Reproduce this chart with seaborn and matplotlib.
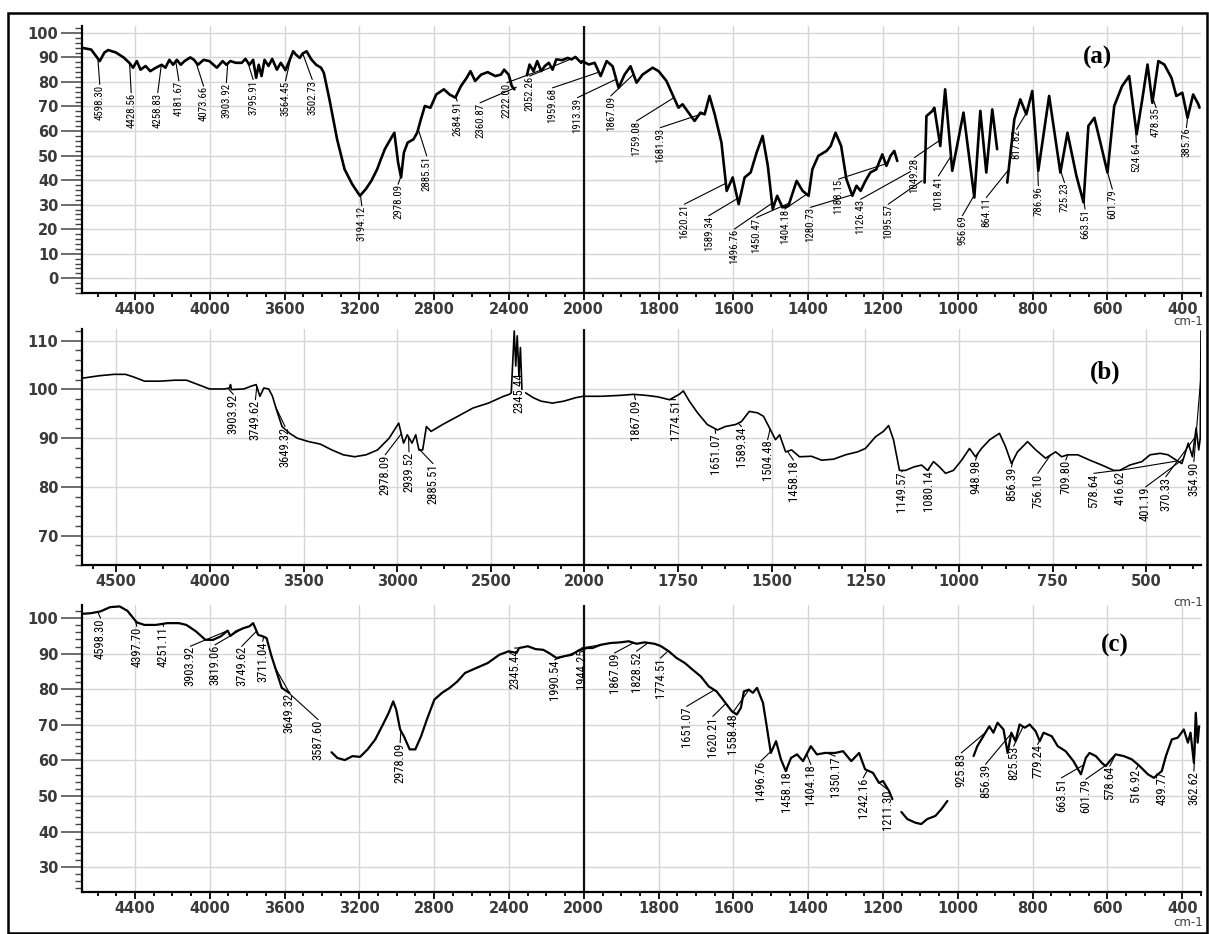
import numpy as np
import pandas as pd
import matplotlib
matplotlib.use("Agg")
import matplotlib.pyplot as plt
import seaborn as sns
from matplotlib import font_manager
from matplotlib.patches import Rectangle

GAP = None

# ---------------- panel (a) spectrum: (wavenumber cm-1, %T) ----------------
a_points = [
    (4683, 93.9), (4634, 93.2), (4588, 88.5), (4563, 92), (4543, 93), (4502, 92), (4461, 90),
    (4430, 87.8), (4410, 85.8), (4390, 88.5), (4370, 85), (4343, 86.5), (4318, 84.4), (4288, 85.8),
    (4257, 87), (4237, 85.8), (4216, 89), (4196, 87), (4176, 89), (4155, 87), (4135, 88.5),
    (4104, 90), (4084, 89), (4063, 87), (4033, 89), (4002, 88.5), (3962, 85.8), (3931, 88.5),
    (3911, 87), (3890, 88.5), (3860, 87.8), (3829, 87.8), (3809, 89.4), (3788, 87), (3768, 89),
    (3752, 81.7), (3738, 87), (3723, 82.4), (3707, 89), (3686, 86.5), (3666, 89.4), (3641, 85),
    (3620, 87.8), (3595, 84.8), (3575, 88.5), (3554, 92.5), (3540, 91.2), (3519, 89.8), (3503, 91.6),
    (3482, 92.5), (3457, 89.2), (3431, 87), (3405, 85.8), (3390, 83.7), (3360, 72.9), (3319, 56.6),
    (3279, 44.4), (3238, 38.3), (3197, 33.6), (3166, 36.3), (3136, 39.7), (3105, 44.4), (3085, 48.5),
    (3064, 52.6), (3044, 55.3), (3013, 59.3), (2993, 47.2), (2977, 41.1), (2962, 51.2), (2942, 55.3),
    (2911, 56.6), (2891, 59.3), (2871, 64.8), (2850, 70.2), (2820, 69.5), (2789, 74.9), (2748, 77),
    (2718, 74.9), (2687, 73.6), (2657, 78.3), (2626, 81.7), (2606, 84.4), (2581, 80.4), (2549, 83),
    (2514, 84), (2473, 82.4), (2443, 83), (2426, 85), (2402, 83), (2385, 78.3), (2371, 77),
    GAP,
    (2304, 82.7), (2290, 87.1), (2269, 84.4), (2249, 88.5), (2228, 84.4), (2208, 86.5), (2187, 87.8),
    (2167, 85), (2147, 89.2), (2116, 88.9), (2086, 89.8), (2065, 89.2), (2045, 90.2), (2014, 87.8),
    (2008, 88.5), (1987, 87.1), (1971, 87.8), (1955, 82.4), (1939, 88.5), (1923, 86.4), (1907, 77.6),
    (1891, 83), (1875, 86.4), (1859, 79.7), (1843, 83), (1816, 85.8), (1800, 84.4), (1779, 80.4),
    (1757, 72.9), (1747, 69.5), (1736, 70.9), (1720, 67.5), (1704, 64.1), (1688, 67.5), (1677, 66.8),
    (1664, 74.3), (1650, 66.8), (1632, 55.3), (1618, 35.6), (1602, 41.1), (1586, 30.2), (1570, 41.1),
    (1554, 43.1), (1538, 51.2), (1522, 58), (1508, 45.8), (1495, 28.2), (1483, 33.6), (1469, 28.9),
    (1453, 29.5), (1431, 39.7), (1415, 35.6), (1399, 33.6), (1389, 44.4), (1373, 49.9), (1351, 51.9),
    (1340, 53.9), (1327, 59.3), (1312, 53.9), (1298, 40.4), (1282, 33.6), (1271, 37.7), (1260, 35.6),
    (1247, 39.7), (1234, 43.1), (1218, 44.4), (1202, 50.5), (1191, 45.8), (1180, 49.9), (1170, 51.9),
    (1162, 47.8),
    GAP,
    (1089, 39), (1084, 66.1), (1068, 68.2), (1063, 69.5), (1047, 53.9), (1034, 77), (1015, 43.8),
    (985, 67.5), (956, 32.9), (940, 68.2), (924, 43.1), (908, 68.8), (895, 52.6),
    GAP,
    (868, 39), (849, 64.8), (833, 72.9), (817, 66.8), (801, 76.3), (785, 43.8), (756, 74.3),
    (726, 43.1), (707, 59.3), (683, 41.7), (664, 30.9), (651, 62.1), (635, 65.4), (619, 55.3),
    (600, 43.1), (582, 70.2), (561, 78.3), (542, 82.4), (522, 58.7), (507, 72.9), (493, 87.1),
    (480, 71.5), (464, 88.5), (448, 87.1), (429, 81.7), (416, 74.3), (400, 75.6), (386, 65.4),
    (371, 74.9), (357, 70.9), (354, 69.5),
]

# ---------------- panel (b) spectrum ----------------
b_points = [
    (4687, 102.3), (4665, 102.4), (4594, 102.8), (4512, 103.1), (4451, 103.1), (4410, 102.6),
    (4349, 101.7), (4267, 101.7), (4186, 101.9), (4125, 101.9), (4063, 101), (4002, 100.1),
    (3921, 100.1), (3895, 100.3), (3890, 101), (3885, 100), (3876, 100), (3819, 100.1), (3778, 100.7),
    (3753, 101), (3733, 98.6), (3712, 100.3), (3686, 100.1), (3666, 98.6), (3645, 95.9), (3615, 92.4),
    (3574, 91), (3533, 90), (3472, 89.3), (3411, 88.8), (3349, 87.6), (3288, 86.6), (3227, 86.2),
    (3166, 86.6), (3105, 87.6), (3043, 90), (2992, 93.1), (2966, 89), (2946, 90.7), (2921, 89),
    (2901, 90.7), (2884, 87.6), (2864, 87.6), (2844, 92.4), (2819, 91.4), (2758, 92.8), (2676, 94.5),
    (2595, 96.2), (2513, 97.2), (2432, 98.6), (2401, 99), (2391, 99.3), (2375, 112), (2367, 104.8),
    (2359, 111), (2350, 102.8), (2342, 108.6), (2334, 100),
    GAP,
    (2314, 99.3), (2273, 98.3), (2232, 97.6), (2171, 97.2), (2110, 97.6), (2048, 98.3), (2007, 98.6),
    (1955, 98.6), (1902, 98.8), (1869, 99), (1837, 98.8), (1805, 98.5), (1773, 97.9), (1747, 99),
    (1736, 99.7), (1720, 97.6), (1698, 95.2), (1672, 92.8), (1645, 91.7), (1624, 92.4), (1597, 92.8),
    (1581, 93.4), (1560, 95.5), (1538, 95.2), (1522, 94.5), (1506, 92.1), (1490, 89.7), (1479, 90.7),
    (1463, 87.2), (1447, 87.6), (1426, 86.2), (1394, 86.3), (1367, 85.5), (1335, 85.7), (1303, 86.6),
    (1271, 87.2), (1250, 87.9), (1223, 90.3), (1202, 91.4), (1188, 92.6), (1175, 89.7), (1159, 83.4),
    (1143, 83.4), (1121, 84.1), (1100, 84.5), (1084, 83.4), (1068, 85.2), (1052, 84.1), (1036, 82.8),
    (1015, 83.4), (993, 85.5), (972, 87.9), (956, 86.2), (940, 87.9), (918, 89.7), (892, 91),
    (876, 88.3), (860, 84.8), (844, 87.2), (817, 89.3), (795, 87.6), (769, 85.9), (742, 87.2),
    (726, 86.2), (710, 86.6), (683, 86.6), (651, 85.5), (619, 84.5), (587, 83.4), (571, 83.4),
    (544, 84.5), (512, 85.2), (490, 86.6), (463, 86.9), (442, 86.6), (420, 85.5), (405, 84.8),
    (388, 89), (377, 86.2), (367, 92.1), (360, 87.6), (356, 90), (354, 112),
]

# ---------------- panel (c) spectrum ----------------
c_points = [
    (4686, 101.2), (4635, 101.4), (4584, 101.9), (4533, 103.1), (4482, 103.3), (4441, 102.1),
    (4390, 98.8), (4349, 98.1), (4288, 98.1), (4227, 98.6), (4165, 98.6), (4125, 98.1), (4074, 96.3),
    (4023, 93.9), (3982, 93.9), (3941, 94.9), (3904, 96.5), (3890, 95), (3859, 96.3), (3819, 97.2),
    (3788, 97.7), (3768, 98.6), (3741, 95.3), (3717, 94.9), (3696, 94.4), (3672, 89.7), (3655, 86.9),
    (3615, 80.4), (3574, 79),
    GAP,
    (3349, 62.3), (3318, 60.7), (3278, 60.1), (3237, 61.2), (3196, 61), (3156, 63.1), (3115, 65.9),
    (3074, 70.1), (3043, 73.4), (3019, 76.6), (3003, 74.3), (2982, 68.7), (2962, 66.8), (2931, 63.1),
    (2901, 63.1), (2870, 66.8), (2839, 71.5), (2799, 77.1), (2758, 79), (2717, 80.4), (2676, 82.2),
    (2635, 84.6), (2574, 86), (2513, 87.4), (2452, 89.7), (2401, 90.7), (2360, 90.2), (2346, 91.6),
    (2299, 92.1), (2258, 91.3), (2217, 91.1), (2186, 90.2), (2146, 88.8), (2105, 89.3), (2064, 89.7),
    (2023, 91.1), (1993, 91.6), (1977, 91.6), (1955, 92.5), (1929, 93), (1902, 93.2), (1880, 93.5),
    (1859, 92.8), (1838, 93.2), (1811, 92.8), (1795, 92.2), (1773, 90.7), (1752, 88.8), (1730, 87.4),
    (1709, 85.5), (1687, 83.6), (1666, 80.8), (1645, 79.4), (1628, 77.1), (1618, 75.7), (1604, 73.8),
    (1591, 72.9), (1580, 74.8), (1572, 79.4), (1559, 79.9), (1548, 79), (1537, 80.4), (1521, 76.2),
    (1511, 69.6), (1500, 62.1), (1486, 65.4), (1473, 60.3), (1460, 57), (1446, 60.7), (1430, 61.7),
    (1414, 59.8), (1393, 64), (1377, 61.7), (1355, 62.1), (1328, 62.1), (1307, 62.6), (1285, 59.8),
    (1264, 62.1), (1248, 57.5), (1227, 56.5), (1211, 53.7), (1200, 54.2), (1184, 51.4), (1175, 49.1),
    GAP,
    (1151, 45.5), (1135, 43.5), (1114, 42.5), (1098, 42.1), (1082, 43.5), (1060, 44.4), (1044, 46.3),
    (1028, 48.6),
    GAP,
    (958, 61.2), (948, 64), (932, 66.8), (916, 69.6), (905, 67.8), (894, 70.6), (878, 68.7),
    (867, 62.1), (857, 67.8), (846, 65.4), (835, 70.1), (821, 69.2), (808, 70.1), (792, 68.2),
    (781, 65.4), (771, 67.8), (749, 66.8), (733, 64), (712, 62.6), (691, 59.8), (671, 56.1),
    (658, 60.7), (648, 62.1), (631, 61.2), (615, 59.3), (605, 58.4), (594, 59.8), (578, 61.7),
    (556, 61.2), (535, 60.3), (514, 58.4), (492, 56.1), (476, 55.1), (455, 57), (444, 61.2),
    (428, 65.9), (412, 66.4), (396, 68.7), (385, 65), (378, 67.8), (369, 59.3), (364, 73.4),
    (359, 65), (355, 69.6),
]

# ---------------- peak labels ----------------
a_labels = ["4598.30", "4428.56", "4258.83", "4181.67", "4073.66", "3903.92", "3795.91", "3564.45",
            "3502.73", "3194.12", "2978.09", "2885.51", "2684.91", "2360.87", "2222.00", "2052.26",
            "1959.68", "1913.39", "1867.09", "1759.08", "1681.93", "1620.21", "1589.34", "1496.76",
            "1450.47", "1404.18", "1280.73", "1188.15", "1126.43", "1095.57", "1049.28", "1018.41",
            "956.69", "864.11", "817.82", "786.96", "725.23", "663.51", "601.79", "524.64", "478.35",
            "385.76"]
b_labels = ["3903.92", "3749.62", "3649.32", "2978.09", "2939.52", "2885.51", "2345.44", "1867.09",
            "1774.51", "1651.07", "1589.34", "1504.48", "1458.18", "1149.57", "1080.14", "948.98",
            "856.39", "756.10", "709.80", "578.64", "416.62", "401.19", "370.33", "354.90"]
c_labels = ["4598.30", "4397.70", "4251.11", "3903.92", "3819.06", "3749.62", "3711.04", "3649.32",
            "3587.60", "2978.09", "2345.44", "1990.54", "1944.25", "1867.09", "1828.52", "1774.51",
            "1651.07", "1620.21", "1558.48", "1496.76", "1458.18", "1404.18", "1350.17", "1242.16",
            "1211.30", "925.83", "856.39", "825.53", "779.24", "663.51", "601.79", "578.64", "516.92",
            "439.77", "362.62"]

# label placement (layout): (x of the text, y of the text top)
a_label_pos = [(4588, 79), (4420, 75.6), (4278, 75.6), (4165, 80.4), (4033, 78.3), (3911, 79.7),
               (3768, 81), (3595, 80.4), (3452, 81), (3187, 29.5), (2993, 38.3), (2840, 49.9),
               (2677, 72.2), (2555, 71.5), (2411, 79.7), (2290, 82.4), (2167, 77.6), (2034, 73.6),
               (1928, 74.3), (1859, 64.1), (1795, 61.4), (1731, 30.2), (1666, 25.5), (1597, 20.1),
               (1538, 24.8), (1463, 28.2), (1394, 28.9), (1319, 40.4), (1260, 32.2), (1186, 30.2),
               (1116, 49.2), (1052, 41.7), (988, 25.5), (924, 32.9), (843, 60.7), (785, 37.7),
               (715, 39), (660, 28.2), (587, 36.3), (523, 55.3), (470, 69.5), (389, 61.4)]
b_label_pos = [(3875, 99), (3757, 97.9), (3599, 92.4), (3064, 86.6), (2937, 87.2), (2809, 84.8),
               (2350, 103.4), (1864, 97.9), (1757, 97.9), (1650, 91), (1581, 92.4), (1511, 89.7),
               (1442, 85.5), (1153, 83.1), (1081, 83.4), (956, 85.5), (860, 84.1), (790, 82.8),
               (715, 85.5), (640, 82.8), (571, 83.4), (502, 80), (448, 82.1), (373, 85.2)]
c_label_pos = [(4584, 100), (4390, 97.7), (4247, 97.7), (4104, 92.1), (3972, 92.5), (3829, 92.1),
               (3717, 93.5), (3574, 79), (3421, 71.5), (2982, 65), (2370, 91.6), (2156, 88.3),
               (2013, 91.6), (1918, 90.2), (1859, 90.7), (1795, 88.8), (1725, 75.2), (1655, 72.4),
               (1602, 73.4), (1527, 59.8), (1457, 57), (1393, 58.9), (1328, 61.2), (1253, 55.1),
               (1189, 51.9), (991, 62.1), (926, 58.9), (851, 64), (787, 64.5), (723, 55.1),
               (658, 54.7), (594, 58.4), (524, 57.5), (454, 57), (369, 57)]

# axis ticks
ac_xticks = [4400, 4000, 3600, 3200, 2800, 2400, 2000, 1800, 1600, 1400, 1200, 1000, 800, 600, 400]
b_xticks = [4500, 4000, 3500, 3000, 2500, 2000, 1750, 1500, 1250, 1000, 750, 500]
a_yticks = [0, 10, 20, 30, 40, 50, 60, 70, 80, 90, 100]
b_yticks = [70, 80, 90, 100, 110]
c_yticks = [30, 40, 50, 60, 70, 80, 90, 100]

# ------------------------------------------------------------------
sns.set_theme(style="white")
plt.rcParams["font.family"] = ["DejaVu Sans"]

names = {f.name for f in font_manager.fontManager.ttflist}
NARROW = next((n for n in ["Liberation Sans Narrow", "Roboto Condensed", "Open Sans Condensed"]
               if n in names), None)
NARROW_SCALE = 1.0 if NARROW else 0.72
if NARROW is None:
    NARROW = "DejaVu Sans"
SERIF = "Liberation Serif" if "Liberation Serif" in names else "DejaVu Serif"


def fwd(x):
    x = np.asarray(x, float)
    return np.where(x <= 2000, x - 2000, (x - 2000) / 2.0)


def inv(t):
    t = np.asarray(t, float)
    return np.where(t <= 0, t + 2000, 2.0 * t + 2000)


def to_df(points):
    rows, seg = [], 0
    for p in points:
        if p is None:
            seg += 1
            continue
        rows.append((p[0], p[1], seg))
    return pd.DataFrame(rows, columns=["wn", "T", "seg"])


W, H = 1209, 934
fig = plt.figure(figsize=(W / 100, H / 100), dpi=100)


def make_axes(top, bottom, left=82, right=1201):
    return fig.add_axes([left / W, 1 - bottom / H, (right - left) / W, (bottom - top) / H])


TICKCOL = "#3a3a3a"


def draw_panel(ax, points, ylim, yticks, xticks, xminor, labels, label_pos, lw, fs):
    df = to_df(points)
    sns.lineplot(data=df, x="wn", y="T", units="seg", estimator=None, sort=False,
                 color="black", lw=lw, ax=ax, legend=False, zorder=3)
    ax.set_xscale("function", functions=(fwd, inv))
    ax.set_xlim(4683, 354)
    ax.set_ylim(*ylim)
    ax.set_xlabel("")
    ax.set_ylabel("")
    ax.set_xticks(xticks, labels=[str(t) for t in xticks])
    ax.set_xticks(xminor, minor=True)
    ax.set_yticks(yticks, labels=[str(t) for t in yticks])
    ax.set_yticks(np.arange(yticks[0] - 6, ylim[1], 2), minor=True)
    ax.grid(True, which="major", color="#d6d6d6", lw=1.0, zorder=0)
    ax.axvline(2000, color="#111111", lw=1.6, zorder=2)
    for s in ["top", "right"]:
        ax.spines[s].set_visible(False)
    for s in ["left", "bottom"]:
        ax.spines[s].set_color("black")
        ax.spines[s].set_linewidth(1.6)
    ax.tick_params(axis="x", which="major", direction="out", length=5, width=1.3, color="black",
                   labelsize=10.5, labelcolor=TICKCOL, pad=1.5, bottom=True)
    ax.tick_params(axis="x", which="minor", direction="out", length=3, width=1.3, color="black",
                   bottom=True)
    ax.tick_params(axis="y", which="major", direction="out", length=15, width=1.1, color="#444444",
                   labelsize=10.5, labelcolor=TICKCOL, pad=2, left=True)
    ax.tick_params(axis="y", which="minor", direction="out", length=5, width=1.0, color="#444444",
                   left=True)
    for t in ax.get_xticklabels() + ax.get_yticklabels():
        t.set_fontweight("bold")

    # peak annotations
    srt = df.sort_values("wn")
    for lab, (lx, ly) in zip(labels, label_pos):
        pk = float(lab)
        py = float(np.interp(pk, srt["wn"].to_numpy(), srt["T"].to_numpy()))
        ax.plot([lx, pk], [ly, py], color="black", lw=0.8, zorder=4)
        ax.text(lx, ly, lab, rotation=90, ha="center", va="top", fontsize=fs * NARROW_SCALE,
                family=[NARROW, "DejaVu Sans"], color="black", zorder=5)


ax_a = make_axes(26, 293)
ax_b = make_axes(329, 565)
ax_c = make_axes(605, 892)

minor_ac = [v for v in list(range(2100, 4700, 100)) + list(range(350, 2000, 50)) if v not in ac_xticks]
minor_b = [v for v in list(np.arange(2125, 4700, 125)) + list(np.arange(375, 2000, 62.5))
           if v not in b_xticks]

draw_panel(ax_a, a_points, (-5.7, 102.8), a_yticks, ac_xticks, minor_ac, a_labels, a_label_pos, 1.9, 7.8)
draw_panel(ax_b, b_points, (64.3, 112.4), b_yticks, b_xticks, minor_b, b_labels, b_label_pos, 1.2, 9.0)
draw_panel(ax_c, c_points, (23.0, 103.7), c_yticks, ac_xticks, minor_ac, c_labels, c_label_pos, 1.6, 9.0)

# panel tags and units
for txt, (px, py) in zip(["(a)", "(b)", "(c)"], [(1097, 57), (1105, 372), (1115, 645)]):
    fig.text(px / W, 1 - py / H, txt, ha="center", va="center", fontsize=18, fontweight="bold",
             family=SERIF, color="black")
for py in [322, 603, 922]:
    fig.text(1203 / W, 1 - py / H, "cm-1", ha="right", va="center", fontsize=8.5, color=TICKCOL)

# outer frame
fig.patches.append(Rectangle((8 / W, 1 / H), (1207 - 8) / W, (934 - 14) / H, transform=fig.transFigure,
                             fill=False, edgecolor="black", lw=1.8))

fig.savefig("out.png", dpi=100, facecolor="white")
